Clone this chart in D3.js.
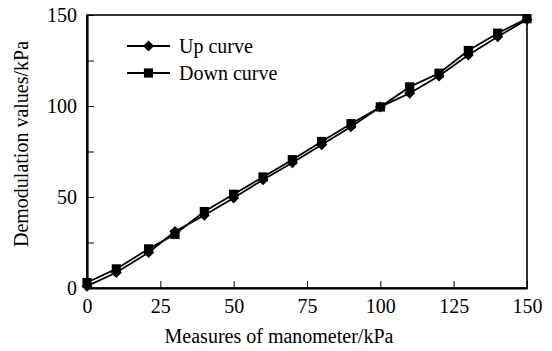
<!DOCTYPE html>
<html>
<head>
<meta charset="utf-8">
<script src="https://cdn.jsdelivr.net/npm/d3@7"></script>
<style>
	body { margin: 0; background: #fff; }
	svg text { font-family: 'Liberation Serif', 'DejaVu Serif', 'Times New Roman', serif !important; fill: #000; }
</style>
</head>
<body>
<div id="chart"></div>
<script>
// measured pressures (kPa)
const measures = [0, 10, 21, 30, 40, 50, 60, 70, 80, 90, 100, 110, 120, 130, 140, 150];
const upCurve = [1, 8.5, 19.5, 31, 40, 49.5, 59.5, 68.8, 78.7, 88.6, 99.5, 107, 116.5, 128, 138, 147.5];
const downCurve = [3, 10.5, 21.5, 29.5, 42, 51.5, 61, 70.5, 80.5, 90.3, 99.5, 110.5, 118, 130.5, 140, 148];
const xTicks = [0, 25, 50, 75, 100, 125, 150];
const yTicks = [0, 25, 50, 75, 100, 125, 150];
const yLabels = [0, 50, 100, 150];
const seriesNames = ['Up curve', 'Down curve'];

const width = 552, height = 351;
const margin = {left: 87, right: 25, top: 15, bottom: 63};
const FONT_SIZE = 20;
const TICK_SIZE = 7;

const svg = d3.select('#chart').append('svg')
	.attr('width', width)
	.attr('height', height);

const x = d3.scaleLinear()
	.domain([0, 150])
	.range([margin.left, width - margin.right]);

const y = d3.scaleLinear()
	.domain([0, 150])
	.range([height - margin.bottom, margin.top]);

// frame
svg.append('rect')
	.attr('x', x(0))
	.attr('y', y(150))
	.attr('width', x(150) - x(0))
	.attr('height', y(0) - y(150))
	.attr('fill', 'none')
	.attr('stroke', '#000')
	.attr('stroke-width', 1.6);

const xAxis = d3.axisBottom(x)
	.tickValues(xTicks)
	.tickSize(-TICK_SIZE)
	.tickSizeOuter(0)
	.tickPadding(11);

svg.append('g')
	.attr('class', 'x-axis')
	.attr('transform', `translate(0,${y(0)})`)
	.call(xAxis)
	.call(g => g.select('.domain').attr('stroke', '#000').attr('stroke-width', 2.2))
	.call(g => g.selectAll('line').attr('stroke', '#000').attr('stroke-width', 1))
	.call(g => g.selectAll('text').style('font-size', FONT_SIZE + 'px'));

const yAxis = d3.axisLeft(y)
	.tickValues(yTicks)
	.tickSize(-TICK_SIZE)
	.tickSizeOuter(0)
	.tickPadding(10)
	.tickFormat(d => yLabels.includes(d) ? d : '');

svg.append('g')
	.attr('class', 'y-axis')
	.attr('transform', `translate(${x(0)},0)`)
	.call(yAxis)
	.call(g => g.select('.domain').attr('stroke', '#000').attr('stroke-width', 2.2))
	.call(g => g.selectAll('line').attr('stroke', '#000').attr('stroke-width', 1))
	.call(g => g.selectAll('text').style('font-size', FONT_SIZE + 'px'));

// axis titles
svg.append('text')
	.attr('x', 279)
	.attr('y', 343)
	.attr('text-anchor', 'middle')
	.style('font-size', FONT_SIZE + 'px')
	.text('Measures of manometer/kPa');

svg.append('text')
	.attr('transform', 'rotate(-90)')
	.attr('x', -144)
	.attr('y', 28)
	.attr('text-anchor', 'middle')
	.style('font-size', FONT_SIZE + 'px')
	.text('Demodulation values/kPa');

// series
const line = d3.line()
	.x(d => x(d[0]))
	.y(d => y(d[1]));

const upData = measures.map((m, i) => [m, upCurve[i]]);
const downData = measures.map((m, i) => [m, downCurve[i]]);

// diamond = square turned 45 degrees
const diamond = d3.symbol().type(d3.symbolSquare).size(60);
const square = d3.symbol().type(d3.symbolSquare).size(85);
const markers = [[diamond, 45], [square, 0]];

[upData, downData].forEach((data, k) => {
	const [sym, rot] = markers[k];
	svg.append('path')
		.datum(data)
		.attr('fill', 'none')
		.attr('stroke', '#000')
		.attr('stroke-width', 1.8)
		.attr('d', line);
	svg.append('g')
		.selectAll('path')
		.data(data)
		.join('path')
		.attr('transform', d => `translate(${x(d[0])},${y(d[1])}) rotate(${rot})`)
		.attr('d', sym)
		.attr('fill', '#000');
});

// legend
const legend = svg.append('g').attr('class', 'legend');
seriesNames.forEach((name, i) => {
	const ly = 46 + i * 27;
	const [sym, rot] = markers[i];
	legend.append('line')
		.attr('x1', 127).attr('x2', 170)
		.attr('y1', ly).attr('y2', ly)
		.attr('stroke', '#000')
		.attr('stroke-width', 1.8);
	legend.append('path')
		.attr('transform', `translate(148.5,${ly}) rotate(${rot})`)
		.attr('d', sym)
		.attr('fill', '#000');
	legend.append('text')
		.attr('x', 179)
		.attr('y', ly + 7)
		.style('font-size', FONT_SIZE + 'px')
		.text(name);
});
</script>
</body>
</html>
